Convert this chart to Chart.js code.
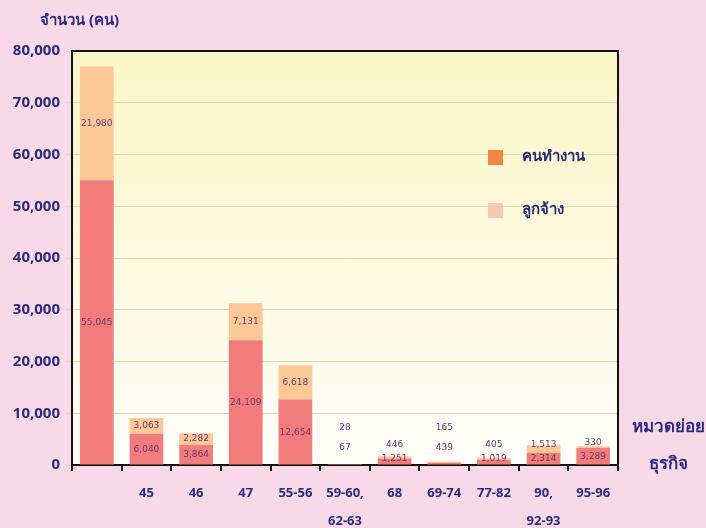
<!DOCTYPE html>
<html>
<head>
<meta charset="utf-8">
<script src="https://cdn.jsdelivr.net/npm/chart.js@4.4.1/dist/chart.umd.min.js"></script>
<style>
  body { margin: 0; background: #f8d9e8; }
  canvas { display: block; }
</style>
</head>
<body>
<canvas id="myChart" width="706" height="528"></canvas>
<script>
// Categories (sub-groups of business)
const categories = ['', '45', '46', '47', '55-56', ['59-60,', '62-63'], '68', '69-74', '77-82', ['90,', '92-93'], '95-96'];

// Series values
const workers = [55045, 6040, 3864, 24109, 12654, 67, 1251, 439, 1019, 2314, 3289];   // คนทำงาน
const employees = [21980, 3063, 2282, 7131, 6618, 28, 446, 165, 405, 1513, 330];      // ลูกจ้าง

const yTicks = [0, 10000, 20000, 30000, 40000, 50000, 60000, 70000, 80000];

const legendNames = ['คนทำงาน', 'ลูกจ้าง'];
const legendColors = ['#f2873f', '#f8c8b0'];

const navy = '#2b2b80';
const labelColor = '#6e3a72';

// plot background, top/right frame, titles, legend
const framePlugin = {
    id: 'frame',
    beforeDraw(chart) {
        const { ctx, chartArea: a } = chart;
        const g = ctx.createLinearGradient(0, a.top, 0, a.bottom);
        g.addColorStop(0, '#fbf6c6');
        g.addColorStop(1, '#fffefa');
        ctx.save();
        ctx.fillStyle = g;
        ctx.fillRect(a.left, a.top, a.right - a.left, a.bottom - a.top);
        ctx.restore();
    },
    afterDraw(chart) {
        const { ctx, chartArea: a } = chart;
        ctx.save();
        ctx.strokeStyle = '#111';
        ctx.lineWidth = 2;
        ctx.beginPath();
        ctx.moveTo(a.left, a.top);
        ctx.lineTo(a.right, a.top);
        ctx.lineTo(a.right, a.bottom);
        ctx.stroke();

        // axis titles
        ctx.fillStyle = navy;
        ctx.font = 'bold 15px "Noto Sans", sans-serif';
        ctx.textBaseline = 'middle';
        ctx.textAlign = 'left';
        ctx.fillText('จำนวน (คน)', 40, 21);
        ctx.font = 'bold 17px "Noto Sans", sans-serif';
        ctx.textAlign = 'center';
        ctx.fillText('หมวดย่อย', 668, 427);
        ctx.fillText('ธุรกิจ', 668, 464);

        // legend
        ctx.font = 'bold 15px "Noto Sans", sans-serif';
        ctx.textAlign = 'left';
        legendNames.forEach((name, i) => {
            const ly = 157 + i * 53;
            ctx.fillStyle = legendColors[i];
            ctx.fillRect(488, ly - 7, 15, 15);
            ctx.fillStyle = navy;
            ctx.fillText(name, 522, ly);
        });
        ctx.restore();
    }
};

// value labels on the bar segments
const valueLabels = {
    id: 'valueLabels',
    afterDatasetsDraw(chart) {
        const { ctx } = chart;
        const y = chart.scales.y;
        const base = y.getPixelForValue(0);
        const m0 = chart.getDatasetMeta(0);
        ctx.save();
        ctx.font = '9px "DejaVu Sans", sans-serif';
        ctx.fillStyle = labelColor;
        ctx.textAlign = 'center';
        ctx.textBaseline = 'middle';
        workers.forEach((w, i) => {
            const e = employees[i];
            const x = m0.data[i].x;
            const wTop = y.getPixelForValue(w);
            const eTop = y.getPixelForValue(w + e);
            let wy = (base + wTop) / 2;
            let gap = 14;
            if (base - wTop < 4) { wy = base - 17; gap = 20; }
            wy = Math.min(wy, base - 6);
            let ey = (wTop + eTop) / 2;
            ey = Math.min(ey, wy - gap);
            ctx.fillText(w.toLocaleString('en-US'), x, wy);
            ctx.fillText(e.toLocaleString('en-US'), x, ey);
        });
        ctx.restore();
    }
};

const ctx = document.getElementById('myChart').getContext('2d');
let myChart = new Chart(ctx, {
    type: 'bar',
    data: {
        labels: categories,
        datasets: [
            {
                label: legendNames[0],
                data: workers,
                backgroundColor: '#f27b7b',
                barPercentage: 0.68,
                categoryPercentage: 1,
            },
            {
                label: legendNames[1],
                data: employees,
                backgroundColor: '#fcc896',
                barPercentage: 0.68,
                categoryPercentage: 1,
            },
        ],
    },
    options: {
        responsive: false,
        animation: false,
        layout: { padding: { top: 51, right: 88, left: 0, bottom: 0 } },
        plugins: {
            legend: { display: false },
            tooltip: { enabled: false },
        },
        scales: {
            x: {
                stacked: true,
                grid: { drawOnChartArea: false, color: '#111', tickLength: 6, lineWidth: 2 },
                border: { color: '#111', width: 2 },
                ticks: {
                    color: navy,
                    padding: 9,
                    maxRotation: 0,
                    autoSkip: false,
                    font: { size: 13, weight: 'bold', family: '"Noto Sans", sans-serif', lineHeight: 2.1 },
                },
                afterFit: (scale) => { scale.height = 63; },
            },
            y: {
                stacked: true,
                min: 0,
                max: 80000,
                afterBuildTicks: (scale) => { scale.ticks = yTicks.map(v => ({ value: v })); },
                grid: { color: '#dcdab4', tickLength: 6 },
                border: { color: '#111', width: 2 },
                ticks: {
                    color: navy,
                    padding: 6,
                    font: { size: 15, weight: 'bold', family: '"Noto Sans", sans-serif' },
                    callback: (v) => v.toLocaleString('en-US'),
                },
                afterFit: (scale) => { scale.width = 72; },
            },
        },
    },
    plugins: [framePlugin, valueLabels],
});
</script>
</body>
</html>
